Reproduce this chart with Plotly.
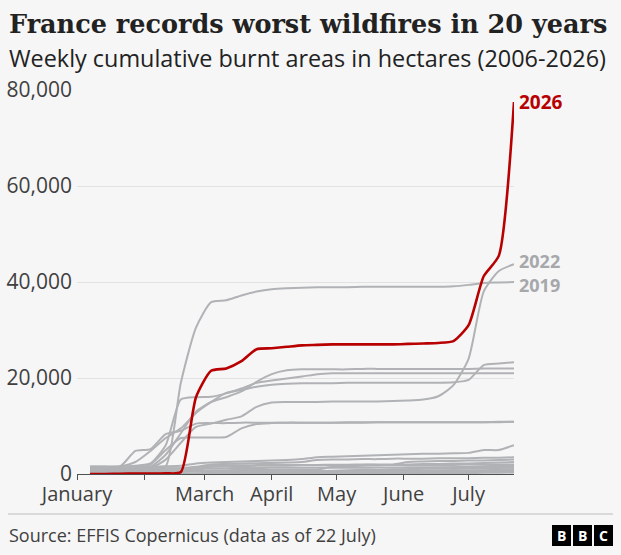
import plotly.graph_objects as go
import pandas as pd

# ---------------- data ----------------
week_dates = pd.date_range("2026-01-07", periods=29, freq="7D")

y2026 = [0, 0, 50, 100, 100, 150, 400, 16000, 21500, 22000, 23500, 26000, 26200, 26500,
         26800, 26900, 27000, 27000, 27000, 27000, 27000, 27100, 27200, 27300, 27700,
         31000, 41200, 45500, 77500]
y2022 = [200, 300, 500, 800, 1200, 3000, 6500, 9800, 10500, 11300, 12000, 14000, 14900,
         15000, 15000, 15000, 15100, 15100, 15100, 15100, 15200, 15300, 15500, 16200,
         18500, 24000, 38000, 42300, 43700]
y2019 = [300, 500, 700, 900, 1100, 1600, 19000, 30500, 35800, 36200, 37200, 38000, 38500,
         38700, 38800, 38900, 38900, 38900, 39000, 39000, 39000, 39000, 39000, 39000,
         39100, 39400, 39800, 39900, 40000]
others = {
    "a": [1500, 1500, 1600, 2500, 4800, 7500, 9500, 12700, 15000, 16900, 17500, 18200, 18600,
          18800, 18900, 18900, 18900, 19000, 19000, 19000, 19000, 19000, 19000, 19000,
          19100, 19600, 22700, 23000, 23300],
    "b": [1500, 1500, 1500, 1700, 2200, 6000, 15500, 16000, 16100, 16800, 17800, 19000, 19500,
          19900, 20300, 20800, 21000, 21000, 21000, 21000, 21000, 21000, 21000, 21000,
          21000, 21000, 21000, 21000, 21000],
    "c": [800, 800, 900, 1000, 1500, 4000, 8500, 13000, 15000, 16000, 17200, 19200, 20800,
          21600, 21800, 21800, 21800, 21800, 21900, 21900, 21900, 21900, 21900, 21900,
          21900, 21900, 22000, 22000, 22000],
    "d": [1500, 1500, 1600, 4800, 5200, 8300, 9000, 10500, 10600, 10600, 10700, 10700, 10700,
          10700, 10700, 10700, 10700, 10800, 10800, 10800, 10800, 10800, 10800, 10800,
          10800, 10800, 10800, 10900, 10900],
    "e": [1000, 1000, 1000, 1200, 2000, 5000, 7500, 7600, 7600, 7700, 9500, 10400, 10600,
          10700, 10700, 10700, 10700, 10700, 10700, 10800, 10800, 10800, 10800, 10800,
          10800, 10800, 10800, 10800, 10900],
    "f": [1500, 1500, 1500, 1500, 1500, 1600, 1700, 2200, 2400, 2500, 2600, 2700, 2800,
          2900, 3100, 3500, 3600, 3700, 3800, 3900, 4000, 4100, 4200, 4200, 4300, 4400,
          5000, 5000, 6000],
    "g": [1000, 1000, 1000, 1000, 1000, 1100, 1200, 1500, 2000, 2100, 2200, 2250, 2300,
          2400, 2500, 2900, 3000, 3000, 3100, 3100, 3200, 3200, 3200, 3300, 3300, 3300,
          3400, 3400, 3500],
    "h": [0, 0, 0, 0, 0, 0, 500, 1200, 1700, 1800, 1800, 1850, 1900, 1900, 1900, 1900,
          1950, 1950, 2000, 2000, 2000, 2500, 2600, 2700, 2700, 2800, 2800, 2900, 3000],
    "i": [800, 800, 800, 800, 800, 800, 800, 800, 800, 800, 850, 850, 850, 900, 900, 900,
          1500, 1600, 1700, 1800, 1900, 2000, 2100, 2100, 2200, 2200, 2300, 2400, 2500],
    "j": [200, 200, 200, 200, 200, 300, 400, 800, 1500, 1600, 1600, 1700, 1700, 1700, 1800,
          1800, 1800, 1800, 1900, 1900, 1900, 1900, 1900, 1900, 1900, 2000, 2000, 2000, 2000],
    "k": [0, 0, 0, 0, 0, 0, 0, 0, 0, 0, 0, 0, 0, 0, 0, 0, 0, 0, 0, 0, 500, 1000, 1200,
          1300, 1400, 1500, 1600, 1700, 1900],
    "l": [1200, 1200, 1200, 1200, 1200, 1200, 1200, 1200, 1200, 1200, 1250, 1250, 1300,
          1300, 1300, 1300, 1300, 1300, 1300, 1350, 1350, 1400, 1400, 1400, 1400, 1400,
          1450, 1450, 1500],
    "m": [0, 0, 0, 0, 0, 0, 0, 0, 0, 200, 300, 300, 300, 400, 500, 600, 700, 800, 900, 900,
          1000, 1000, 1100, 1100, 1100, 1200, 1200, 1250, 1300],
    "n": [0, 0, 0, 0, 0, 0, 0, 100, 200, 300, 400, 400, 500, 500, 500, 600, 600, 600, 600,
          600, 700, 700, 700, 700, 800, 800, 800, 900, 1000],
    "o": [500, 500, 500, 500, 500, 500, 500, 500, 500, 500, 500, 550, 550, 550, 600, 600,
          600, 600, 650, 650, 650, 700, 700, 700, 700, 700, 750, 750, 800],
    "p": [100, 100, 100, 100, 100, 100, 100, 100, 150, 150, 200, 200, 200, 200, 250, 250,
          250, 300, 300, 300, 300, 350, 350, 400, 400, 400, 450, 450, 500],
    "q": [0, 0, 0, 0, 0, 0, 0, 0, 0, 0, 0, 0, 50, 50, 50, 100, 100, 100, 100, 150, 150,
          150, 200, 200, 200, 200, 250, 250, 300],
}

month_ticks = ["2026-01-01", "2026-02-01", "2026-03-01", "2026-04-01",
               "2026-05-01", "2026-06-01", "2026-07-01"]
month_labels = ["January", "", "March", "April", "May", "June", "July"]
y_ticks = [0, 20000, 40000, 60000, 80000]
y_labels = ["0", "20,000", "40,000", "60,000", "80,000"]

GRAY = "#b0b2b5"
RED = "#b80000"
LABEL_GRAY = "#a6a8ab"
TEXT = "#404040"
SANS = "Open Sans, Noto Sans, sans-serif"

fig = go.Figure()
spline = dict(shape="spline", smoothing=0.6)
for key, vals in others.items():
    fig.add_trace(go.Scatter(x=week_dates, y=vals, mode="lines",
                             line=dict(color=GRAY, width=2, **spline),
                             hoverinfo="skip", showlegend=False))
for vals in (y2019, y2022):
    fig.add_trace(go.Scatter(x=week_dates, y=vals, mode="lines",
                             line=dict(color=GRAY, width=2, **spline),
                             hoverinfo="skip", showlegend=False))
fig.add_trace(go.Scatter(x=week_dates, y=y2026, mode="lines",
                         line=dict(color=RED, width=2.6, **spline),
                         hoverinfo="skip", showlegend=False))

# end labels
for txt, vals, col, ys, fs in (("2026", y2026, RED, 0, 19), ("2022", y2022, LABEL_GRAY, 3, 18),
                               ("2019", y2019, LABEL_GRAY, -3, 18)):
    fig.add_annotation(x=week_dates[-1], y=vals[-1], text=f"<b>{txt}</b>", showarrow=False,
                       xanchor="left", yanchor="middle", xshift=3, yshift=ys,
                       font=dict(family=SANS, size=fs, color=col))

# plot area geometry: left 77, right 514, top 90, bottom 474
L, R, T, B = 77, 514, 90, 474
W, H = R - L, B - T
def px(X): return (X - L) / W
def py(Y): return (B - Y) / H

fig.add_annotation(xref="paper", yref="paper", x=px(7), y=py(24), xanchor="left", yanchor="middle",
                   text="<b>France records worst wildfires in 20 years</b>", showarrow=False,
                   font=dict(family="DejaVu Serif, serif", size=25.5, color="#222222"))
fig.add_annotation(xref="paper", yref="paper", x=px(7), y=py(58), xanchor="left", yanchor="middle",
                   text="Weekly cumulative burnt areas in hectares (2006-2026)", showarrow=False,
                   font=dict(family=SANS, size=23.4, color="#222222"))
fig.add_annotation(xref="paper", yref="paper", x=px(7), y=py(535), xanchor="left", yanchor="middle",
                   text="Source: EFFIS Copernicus (data as of 22 July)", showarrow=False,
                   font=dict(family=SANS, size=18, color=TEXT))
fig.add_shape(type="line", xref="paper", yref="paper", x0=px(8), x1=px(613), y0=py(514), y1=py(514),
              line=dict(color="#bdbdbd", width=1))
for i, letter in enumerate(["B", "B", "C"]):
    x0 = 552 + i * 21
    fig.add_shape(type="rect", xref="paper", yref="paper", x0=px(x0), x1=px(x0 + 19),
                  y0=py(546), y1=py(525), fillcolor="#000000", line=dict(width=0))
    fig.add_annotation(xref="paper", yref="paper", x=px(x0 + 9.5), y=py(535.5), text=f"<b>{letter}</b>",
                       showarrow=False, font=dict(family=SANS, size=14, color="#ffffff"),
                       xanchor="center", yanchor="middle")

fig.update_layout(
    width=621, height=555,
    margin=dict(l=L, r=621 - R, t=T, b=555 - B, pad=0),
    paper_bgcolor="#f6f6f6", plot_bgcolor="#f6f6f6",
    xaxis=dict(type="date", range=["2026-01-01", "2026-07-22"], tickvals=month_ticks,
               ticktext=month_labels, ticks="outside", ticklen=5, tickcolor="#505050",
               showline=True, linecolor="#505050", linewidth=1, showgrid=False, zeroline=False,
               ticklabelstandoff=-3, automargin=False,
               tickfont=dict(family=SANS, size=20, color=TEXT), fixedrange=True),
    yaxis=dict(range=[0, 80000], tickvals=y_ticks, ticktext=y_labels, showgrid=True,
               gridcolor="#e2e2e2", gridwidth=1, zeroline=False, showline=False, ticks="",
               ticklabelstandoff=4, automargin=False,
               tickfont=dict(family=SANS, size=21, color=TEXT), fixedrange=True),
)

fig.write_html("out.html")
